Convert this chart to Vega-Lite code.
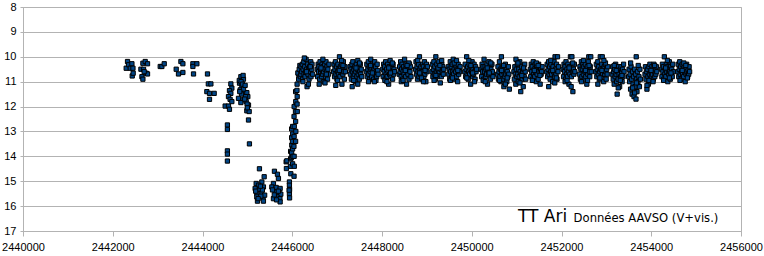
{
"$schema": "https://vega.github.io/schema/vega-lite/v6.json",
"width": 718, "height": 224,
"autosize": "none",
"padding": {"left": 23, "top": 7, "right": 23, "bottom": 25},
"background": "white",
"config": {"view": {"stroke": "#b3b3b3", "strokeWidth": 1}, "font": "Liberation Sans"},
"layer": [
{
"data": {"values": [
{"jd":2442300,"mag":10.46},{"jd":2442329,"mag":10.19},{"jd":2442352,"mag":10.32},{"jd":2442390,"mag":10.46},{"jd":2442427,"mag":10.28},{"jd":2442434,"mag":10.77},{"jd":2442450,"mag":10.46},{"jd":2442455,"mag":10.66},
{"jd":2442628,"mag":10.5},{"jd":2442650,"mag":10.8},{"jd":2442672,"mag":10.26},{"jd":2442672,"mag":10.9},{"jd":2442686,"mag":10.5},{"jd":2442723,"mag":10.19},{"jd":2442746,"mag":10.66},{"jd":2442775,"mag":10.28},{"jd":2442775,"mag":10.69},{"jd":2442700,"mag":10.6},
{"jd":2443058,"mag":10.39},{"jd":2443095,"mag":10.39},{"jd":2443147,"mag":10.28},
{"jd":2443414,"mag":10.5},{"jd":2443465,"mag":10.69},{"jd":2443519,"mag":10.19},{"jd":2443563,"mag":10.28},{"jd":2443563,"mag":10.63},
{"jd":2443786,"mag":10.28},{"jd":2443786,"mag":10.39},{"jd":2443800,"mag":10.69},{"jd":2443875,"mag":10.28},
{"jd":2444111,"mag":10.69},{"jd":2444130,"mag":11.09},{"jd":2444187,"mag":11.09},{"jd":2444097,"mag":11.4},{"jd":2444156,"mag":11.47},{"jd":2444260,"mag":11.47},{"jd":2444156,"mag":11.71},
{"jd":2444632,"mag":11.09},{"jd":2444654,"mag":11.26},{"jd":2444601,"mag":11.36},{"jd":2444632,"mag":11.47},{"jd":2444579,"mag":11.6},{"jd":2444615,"mag":11.71},{"jd":2444654,"mag":11.8},{"jd":2444505,"mag":11.98},{"jd":2444579,"mag":11.98},{"jd":2444601,"mag":12.11},{"jd":2444555,"mag":12.74},{"jd":2444555,"mag":12.92},{"jd":2444555,"mag":13.78},{"jd":2444555,"mag":13.91},{"jd":2444555,"mag":14.19},
{"jd":2444855,"mag":10.8},{"jd":2444913,"mag":10.9},{"jd":2444825,"mag":11.06},{"jd":2444877,"mag":11.2},{"jd":2444840,"mag":11.33},{"jd":2444929,"mag":11.44},{"jd":2444802,"mag":11.67},{"jd":2444899,"mag":11.73},{"jd":2444855,"mag":11.84},{"jd":2444988,"mag":11.44},{"jd":2445010,"mag":11.6},{"jd":2444973,"mag":11.8},{"jd":2445025,"mag":11.94},{"jd":2444988,"mag":12.17},{"jd":2445040,"mag":12.2},{"jd":2445025,"mag":12.54},{"jd":2445046,"mag":13.5},
{"jd":2444820,"mag":10.95},{"jd":2444860,"mag":11.0},{"jd":2444890,"mag":11.1},{"jd":2444870,"mag":11.5},{"jd":2444915,"mag":11.3},{"jd":2444950,"mag":11.15},{"jd":2444960,"mag":11.6},{"jd":2444995,"mag":11.9},{"jd":2445000,"mag":12.05},{"jd":2444830,"mag":11.4},{"jd":2444905,"mag":10.75},{"jd":2444940,"mag":11.7},
{"jd":2445269,"mag":14.5},{"jd":2445374,"mag":14.82},{"jd":2445322,"mag":15.03},{"jd":2445196,"mag":15.09},{"jd":2445247,"mag":15.16},{"jd":2445173,"mag":15.29},{"jd":2445269,"mag":15.33},{"jd":2445358,"mag":15.23},{"jd":2445210,"mag":15.49},{"jd":2445322,"mag":15.47},{"jd":2445210,"mag":15.63},{"jd":2445350,"mag":15.65},{"jd":2445385,"mag":15.56},{"jd":2445225,"mag":15.8},{"jd":2445358,"mag":15.8},{"jd":2445185,"mag":15.4},{"jd":2445300,"mag":15.6},{"jd":2445240,"mag":15.7},{"jd":2445335,"mag":15.35},{"jd":2445290,"mag":15.2},
{"jd":2445603,"mag":14.6},{"jd":2445670,"mag":14.72},{"jd":2445692,"mag":14.89},{"jd":2445581,"mag":15.09},{"jd":2445545,"mag":15.23},{"jd":2445641,"mag":15.25},{"jd":2445730,"mag":15.29},{"jd":2445620,"mag":15.43},{"jd":2445710,"mag":15.49},{"jd":2445745,"mag":15.52},{"jd":2445581,"mag":15.7},{"jd":2445660,"mag":15.63},{"jd":2445725,"mag":15.7},{"jd":2445730,"mag":15.83},{"jd":2445600,"mag":15.55},{"jd":2445690,"mag":15.4},{"jd":2445650,"mag":15.75},{"jd":2445560,"mag":15.35},
{"jd":2445864,"mag":14.22},{"jd":2445870,"mag":14.49},{"jd":2445880,"mag":14.18},{"jd":2445937,"mag":15.03},{"jd":2445937,"mag":15.16},{"jd":2445940,"mag":15.33},{"jd":2445937,"mag":15.5},{"jd":2445940,"mag":15.67},{"jd":2445930,"mag":15.36},
{"jd":2445964,"mag":13.8},{"jd":2445964,"mag":14.1},{"jd":2445960,"mag":14.4},{"jd":2445968,"mag":14.7},
{"jd":2445986,"mag":12.9},{"jd":2445986,"mag":13.25},{"jd":2445990,"mag":13.55},{"jd":2445986,"mag":13.85},{"jd":2445982,"mag":14.05},
{"jd":2446008,"mag":12.8},{"jd":2446010,"mag":13.1},{"jd":2446005,"mag":13.4},{"jd":2446008,"mag":13.7},{"jd":2446012,"mag":14.0},{"jd":2446008,"mag":14.3},
{"jd":2446042,"mag":12.0},{"jd":2446040,"mag":12.4},{"jd":2446045,"mag":12.8},{"jd":2446042,"mag":13.2},{"jd":2446038,"mag":13.6},{"jd":2446042,"mag":14.0},{"jd":2446045,"mag":14.4},{"jd":2446040,"mag":14.8},
{"jd":2446075,"mag":11.4},{"jd":2446078,"mag":11.8},{"jd":2446072,"mag":12.2},{"jd":2446075,"mag":12.6},{"jd":2446080,"mag":13.0},{"jd":2446075,"mag":13.4},
{"jd":2446108,"mag":11.1},{"jd":2446105,"mag":11.35},{"jd":2446110,"mag":11.6},{"jd":2446108,"mag":11.9},{"jd":2446112,"mag":12.2},
{"jd":2446140,"mag":10.7},{"jd":2446142,"mag":10.9},{"jd":2446125,"mag":10.65},{"jd":2446155,"mag":10.5},{"jd":2446170,"mag":10.35},{"jd":2446180,"mag":10.8},
{"jd":2446190,"mag":10.7},{"jd":2446198,"mag":10.4},{"jd":2446211,"mag":10.6},{"jd":2446224,"mag":10.3},{"jd":2446230,"mag":10.9},{"jd":2446243,"mag":10.5},{"jd":2446257,"mag":10.2},{"jd":2446263,"mag":10.7},{"jd":2446279,"mag":10.4},{"jd":2446286,"mag":10.8},{"jd":2446301,"mag":10.6},{"jd":2446308,"mag":10.1},{"jd":2446322,"mag":10.5},{"jd":2446330,"mag":11.2},{"jd":2446345,"mag":10.3},{"jd":2446351,"mag":10.7},{"jd":2446368,"mag":10.5},{"jd":2446374,"mag":10.9},{"jd":2446389,"mag":10.4},{"jd":2446396,"mag":10.6},{"jd":2446411,"mag":10.2},{"jd":2446418,"mag":10.8},{"jd":2446433,"mag":10.5},{"jd":2446440,"mag":10.3},{"jd":2446455,"mag":10.7},{"jd":2446238,"mag":11.0},{"jd":2446318,"mag":10.6},{"jd":2446402,"mag":10.4},{"jd":2446270,"mag":10.05},{"jd":2446360,"mag":11.1},
{"jd":2446556,"mag":10.5},{"jd":2446565,"mag":10.8},{"jd":2446577,"mag":10.3},{"jd":2446588,"mag":10.6},{"jd":2446596,"mag":10.4},{"jd":2446610,"mag":10.9},{"jd":2446619,"mag":10.2},{"jd":2446632,"mag":10.6},{"jd":2446642,"mag":10.5},{"jd":2446653,"mag":10.8},{"jd":2446665,"mag":10.3},{"jd":2446674,"mag":10.7},{"jd":2446687,"mag":10.4},{"jd":2446697,"mag":10.6},{"jd":2446708,"mag":11.0},{"jd":2446720,"mag":10.3},{"jd":2446729,"mag":10.5},{"jd":2446741,"mag":10.8},{"jd":2446752,"mag":10.2},{"jd":2446763,"mag":10.6},{"jd":2446774,"mag":10.4},{"jd":2446786,"mag":10.9},{"jd":2446795,"mag":10.5},{"jd":2446808,"mag":10.7},{"jd":2446818,"mag":10.3},{"jd":2446600,"mag":11.1},{"jd":2446683,"mag":10.1},{"jd":2446760,"mag":10.7},{"jd":2446640,"mag":10.45},{"jd":2446730,"mag":11.05},
{"jd":2446921,"mag":10.6},{"jd":2446931,"mag":10.3},{"jd":2446943,"mag":10.8},{"jd":2446952,"mag":10.5},{"jd":2446963,"mag":10.2},{"jd":2446975,"mag":10.7},{"jd":2446986,"mag":10.4},{"jd":2446996,"mag":10.9},{"jd":2447008,"mag":10.6},{"jd":2447019,"mag":10.3},{"jd":2447030,"mag":10.7},{"jd":2447040,"mag":10.5},{"jd":2447052,"mag":10.0},{"jd":2447063,"mag":10.8},{"jd":2447073,"mag":10.4},{"jd":2447085,"mag":10.6},{"jd":2447096,"mag":10.3},{"jd":2447107,"mag":11.1},{"jd":2447118,"mag":10.5},{"jd":2447128,"mag":10.7},{"jd":2447140,"mag":10.2},{"jd":2447151,"mag":10.6},{"jd":2447162,"mag":10.9},{"jd":2447173,"mag":10.4},{"jd":2447184,"mag":10.6},{"jd":2446970,"mag":11.15},{"jd":2447050,"mag":10.55},{"jd":2447130,"mag":10.35},{"jd":2447010,"mag":10.95},{"jd":2447100,"mag":10.15},
{"jd":2447287,"mag":10.4},{"jd":2447296,"mag":10.7},{"jd":2447309,"mag":10.5},{"jd":2447318,"mag":10.9},{"jd":2447330,"mag":10.3},{"jd":2447341,"mag":10.6},{"jd":2447350,"mag":10.2},{"jd":2447362,"mag":10.8},{"jd":2447373,"mag":10.5},{"jd":2447384,"mag":10.7},{"jd":2447395,"mag":10.4},{"jd":2447406,"mag":11.0},{"jd":2447417,"mag":10.6},{"jd":2447428,"mag":10.3},{"jd":2447439,"mag":10.8},{"jd":2447450,"mag":10.5},{"jd":2447461,"mag":10.15},{"jd":2447472,"mag":10.7},{"jd":2447483,"mag":10.4},{"jd":2447494,"mag":10.9},{"jd":2447505,"mag":10.6},{"jd":2447516,"mag":10.3},{"jd":2447527,"mag":10.7},{"jd":2447538,"mag":10.5},{"jd":2447549,"mag":10.8},{"jd":2447335,"mag":11.2},{"jd":2447420,"mag":10.45},{"jd":2447500,"mag":10.25},{"jd":2447370,"mag":10.95},{"jd":2447460,"mag":11.1},
{"jd":2447652,"mag":10.6},{"jd":2447662,"mag":10.3},{"jd":2447673,"mag":10.8},{"jd":2447684,"mag":10.5},{"jd":2447695,"mag":10.2},{"jd":2447706,"mag":10.7},{"jd":2447717,"mag":10.4},{"jd":2447728,"mag":10.9},{"jd":2447738,"mag":10.6},{"jd":2447749,"mag":10.1},{"jd":2447760,"mag":10.5},{"jd":2447771,"mag":10.8},{"jd":2447782,"mag":10.3},{"jd":2447793,"mag":10.6},{"jd":2447804,"mag":10.4},{"jd":2447815,"mag":10.9},{"jd":2447826,"mag":10.5},{"jd":2447837,"mag":10.2},{"jd":2447848,"mag":10.7},{"jd":2447859,"mag":10.4},{"jd":2447870,"mag":10.6},{"jd":2447881,"mag":10.8},{"jd":2447892,"mag":10.3},{"jd":2447903,"mag":10.55},{"jd":2447914,"mag":10.7},{"jd":2447700,"mag":11.0},{"jd":2447785,"mag":10.65},{"jd":2447865,"mag":10.95},{"jd":2447745,"mag":10.35},{"jd":2447830,"mag":11.0},
{"jd":2448017,"mag":10.5},{"jd":2448027,"mag":10.8},{"jd":2448038,"mag":10.3},{"jd":2448049,"mag":10.6},{"jd":2448060,"mag":10.4},{"jd":2448071,"mag":10.9},{"jd":2448082,"mag":10.2},{"jd":2448093,"mag":10.7},{"jd":2448104,"mag":10.5},{"jd":2448115,"mag":10.8},{"jd":2448126,"mag":10.3},{"jd":2448137,"mag":10.6},{"jd":2448148,"mag":11.1},{"jd":2448159,"mag":10.4},{"jd":2448170,"mag":10.7},{"jd":2448181,"mag":10.15},{"jd":2448192,"mag":10.5},{"jd":2448203,"mag":10.8},{"jd":2448214,"mag":10.4},{"jd":2448225,"mag":10.6},{"jd":2448236,"mag":10.9},{"jd":2448247,"mag":10.3},{"jd":2448258,"mag":10.7},{"jd":2448269,"mag":10.5},{"jd":2448280,"mag":10.6},{"jd":2448065,"mag":10.95},{"jd":2448150,"mag":10.45},{"jd":2448230,"mag":10.25},{"jd":2448110,"mag":11.0},{"jd":2448190,"mag":10.65},
{"jd":2448383,"mag":10.7},{"jd":2448393,"mag":10.4},{"jd":2448404,"mag":10.6},{"jd":2448415,"mag":10.2},{"jd":2448426,"mag":10.8},{"jd":2448437,"mag":10.5},{"jd":2448448,"mag":10.3},{"jd":2448459,"mag":10.9},{"jd":2448470,"mag":10.6},{"jd":2448481,"mag":10.4},{"jd":2448492,"mag":10.7},{"jd":2448503,"mag":10.1},{"jd":2448514,"mag":10.5},{"jd":2448525,"mag":10.8},{"jd":2448536,"mag":10.3},{"jd":2448547,"mag":11.1},{"jd":2448558,"mag":10.6},{"jd":2448569,"mag":10.4},{"jd":2448580,"mag":10.7},{"jd":2448591,"mag":10.5},{"jd":2448602,"mag":10.9},{"jd":2448613,"mag":10.3},{"jd":2448624,"mag":10.6},{"jd":2448635,"mag":10.4},{"jd":2448646,"mag":10.8},{"jd":2448430,"mag":11.0},{"jd":2448520,"mag":10.55},{"jd":2448600,"mag":10.25},{"jd":2448470,"mag":10.95},{"jd":2448560,"mag":10.35},
{"jd":2448748,"mag":10.5},{"jd":2448758,"mag":10.2},{"jd":2448769,"mag":10.7},{"jd":2448780,"mag":10.4},{"jd":2448791,"mag":10.9},{"jd":2448802,"mag":10.6},{"jd":2448813,"mag":10.3},{"jd":2448824,"mag":10.8},{"jd":2448835,"mag":10.0},{"jd":2448846,"mag":10.5},{"jd":2448857,"mag":10.7},{"jd":2448868,"mag":10.4},{"jd":2448879,"mag":10.6},{"jd":2448890,"mag":10.9},{"jd":2448901,"mag":10.3},{"jd":2448912,"mag":10.6},{"jd":2448923,"mag":10.4},{"jd":2448934,"mag":10.8},{"jd":2448945,"mag":10.2},{"jd":2448956,"mag":10.7},{"jd":2448967,"mag":10.5},{"jd":2448978,"mag":11.0},{"jd":2448989,"mag":10.3},{"jd":2449000,"mag":10.6},{"jd":2449011,"mag":10.4},{"jd":2448795,"mag":10.15},{"jd":2448880,"mag":10.85},{"jd":2448960,"mag":10.55},{"jd":2448840,"mag":10.65},{"jd":2448925,"mag":11.0},
{"jd":2449113,"mag":10.6},{"jd":2449123,"mag":10.3},{"jd":2449134,"mag":10.8},{"jd":2449145,"mag":10.5},{"jd":2449156,"mag":10.2},{"jd":2449167,"mag":10.7},{"jd":2449178,"mag":10.4},{"jd":2449189,"mag":10.9},{"jd":2449200,"mag":10.0},{"jd":2449211,"mag":10.6},{"jd":2449222,"mag":10.3},{"jd":2449233,"mag":10.8},{"jd":2449244,"mag":10.5},{"jd":2449255,"mag":10.7},{"jd":2449266,"mag":10.2},{"jd":2449277,"mag":10.6},{"jd":2449288,"mag":10.4},{"jd":2449299,"mag":11.05},{"jd":2449310,"mag":10.5},{"jd":2449321,"mag":10.8},{"jd":2449332,"mag":10.3},{"jd":2449343,"mag":10.6},{"jd":2449354,"mag":10.4},{"jd":2449365,"mag":10.7},{"jd":2449376,"mag":10.5},{"jd":2449160,"mag":10.95},{"jd":2449250,"mag":10.45},{"jd":2449330,"mag":10.15},{"jd":2449200,"mag":10.75},{"jd":2449290,"mag":10.35},
{"jd":2449478,"mag":10.4},{"jd":2449488,"mag":10.7},{"jd":2449499,"mag":10.5},{"jd":2449510,"mag":10.9},{"jd":2449521,"mag":10.2},{"jd":2449532,"mag":10.6},{"jd":2449543,"mag":10.4},{"jd":2449554,"mag":10.8},{"jd":2449565,"mag":10.3},{"jd":2449576,"mag":10.6},{"jd":2449587,"mag":10.1},{"jd":2449598,"mag":10.7},{"jd":2449609,"mag":10.5},{"jd":2449620,"mag":10.9},{"jd":2449631,"mag":10.3},{"jd":2449642,"mag":10.6},{"jd":2449653,"mag":10.4},{"jd":2449664,"mag":10.8},{"jd":2449675,"mag":10.5},{"jd":2449686,"mag":11.0},{"jd":2449697,"mag":10.3},{"jd":2449708,"mag":10.7},{"jd":2449719,"mag":10.5},{"jd":2449730,"mag":10.6},{"jd":2449741,"mag":10.4},{"jd":2449525,"mag":10.95},{"jd":2449610,"mag":10.25},{"jd":2449690,"mag":10.55},{"jd":2449570,"mag":10.85},{"jd":2449660,"mag":10.15},
{"jd":2449844,"mag":10.6},{"jd":2449854,"mag":10.3},{"jd":2449865,"mag":10.8},{"jd":2449876,"mag":10.5},{"jd":2449887,"mag":10.0},{"jd":2449898,"mag":10.7},{"jd":2449909,"mag":10.4},{"jd":2449920,"mag":10.9},{"jd":2449931,"mag":10.6},{"jd":2449942,"mag":10.3},{"jd":2449953,"mag":10.7},{"jd":2449964,"mag":10.5},{"jd":2449975,"mag":11.1},{"jd":2449986,"mag":10.4},{"jd":2449997,"mag":10.6},{"jd":2450008,"mag":10.2},{"jd":2450019,"mag":10.8},{"jd":2450030,"mag":10.5},{"jd":2450041,"mag":10.7},{"jd":2450052,"mag":10.3},{"jd":2450063,"mag":10.6},{"jd":2450074,"mag":10.9},{"jd":2450085,"mag":10.4},{"jd":2450096,"mag":10.6},{"jd":2450107,"mag":10.5},{"jd":2449890,"mag":10.85},{"jd":2449980,"mag":10.35},{"jd":2450060,"mag":11.0},{"jd":2449935,"mag":10.15},{"jd":2450020,"mag":10.65},
{"jd":2450209,"mag":10.5},{"jd":2450219,"mag":10.8},{"jd":2450230,"mag":10.3},{"jd":2450241,"mag":10.6},{"jd":2450252,"mag":10.4},{"jd":2450263,"mag":10.9},{"jd":2450274,"mag":10.1},{"jd":2450285,"mag":10.6},{"jd":2450296,"mag":10.4},{"jd":2450307,"mag":10.8},{"jd":2450318,"mag":10.5},{"jd":2450329,"mag":10.7},{"jd":2450340,"mag":10.3},{"jd":2450351,"mag":11.1},{"jd":2450362,"mag":10.5},{"jd":2450373,"mag":10.7},{"jd":2450384,"mag":10.2},{"jd":2450395,"mag":10.6},{"jd":2450406,"mag":10.4},{"jd":2450417,"mag":10.9},{"jd":2450428,"mag":10.5},{"jd":2450439,"mag":10.7},{"jd":2450450,"mag":10.3},{"jd":2450461,"mag":10.6},{"jd":2450472,"mag":10.8},{"jd":2450255,"mag":10.95},{"jd":2450345,"mag":10.45},{"jd":2450425,"mag":10.25},{"jd":2450300,"mag":11.0},{"jd":2450390,"mag":10.65},
{"jd":2450574,"mag":10.7},{"jd":2450584,"mag":10.4},{"jd":2450595,"mag":10.9},{"jd":2450606,"mag":10.6},{"jd":2450617,"mag":10.2},{"jd":2450628,"mag":10.8},{"jd":2450639,"mag":10.5},{"jd":2450650,"mag":11.0},{"jd":2450661,"mag":10.0},{"jd":2450672,"mag":10.7},{"jd":2450683,"mag":10.4},{"jd":2450694,"mag":10.9},{"jd":2450705,"mag":10.6},{"jd":2450716,"mag":11.2},{"jd":2450727,"mag":10.5},{"jd":2450738,"mag":10.8},{"jd":2450749,"mag":10.3},{"jd":2450760,"mag":10.7},{"jd":2450771,"mag":10.5},{"jd":2450782,"mag":11.0},{"jd":2450793,"mag":10.6},{"jd":2450804,"mag":10.8},{"jd":2450815,"mag":10.4},{"jd":2450826,"mag":10.7},{"jd":2450837,"mag":11.3},{"jd":2450620,"mag":10.95},{"jd":2450710,"mag":10.35},{"jd":2450790,"mag":10.85},{"jd":2450665,"mag":10.55},{"jd":2450750,"mag":11.1},
{"jd":2450939,"mag":10.6},{"jd":2450949,"mag":10.9},{"jd":2450960,"mag":10.4},{"jd":2450971,"mag":10.7},{"jd":2450982,"mag":11.1},{"jd":2450993,"mag":10.5},{"jd":2451004,"mag":10.8},{"jd":2451015,"mag":10.3},{"jd":2451026,"mag":10.7},{"jd":2451037,"mag":11.0},{"jd":2451048,"mag":10.5},{"jd":2451059,"mag":10.8},{"jd":2451070,"mag":10.2},{"jd":2451081,"mag":10.6},{"jd":2451092,"mag":11.4},{"jd":2451103,"mag":10.7},{"jd":2451114,"mag":10.4},{"jd":2451125,"mag":10.9},{"jd":2451136,"mag":10.6},{"jd":2451147,"mag":11.2},{"jd":2451158,"mag":10.5},{"jd":2451169,"mag":10.8},{"jd":2451180,"mag":10.3},{"jd":2451191,"mag":10.6},{"jd":2451202,"mag":10.9},{"jd":2450985,"mag":10.1},{"jd":2451075,"mag":11.05},{"jd":2451155,"mag":10.45},{"jd":2451030,"mag":10.25},{"jd":2451115,"mag":10.75},
{"jd":2451305,"mag":10.5},{"jd":2451315,"mag":10.8},{"jd":2451326,"mag":10.3},{"jd":2451337,"mag":10.6},{"jd":2451348,"mag":10.4},{"jd":2451359,"mag":10.9},{"jd":2451370,"mag":10.2},{"jd":2451381,"mag":10.7},{"jd":2451392,"mag":10.5},{"jd":2451403,"mag":10.8},{"jd":2451414,"mag":10.3},{"jd":2451425,"mag":10.6},{"jd":2451436,"mag":11.0},{"jd":2451447,"mag":10.4},{"jd":2451458,"mag":10.7},{"jd":2451469,"mag":10.5},{"jd":2451480,"mag":10.9},{"jd":2451491,"mag":10.3},{"jd":2451502,"mag":10.6},{"jd":2451513,"mag":10.4},{"jd":2451524,"mag":11.1},{"jd":2451535,"mag":10.5},{"jd":2451546,"mag":10.7},{"jd":2451557,"mag":10.6},{"jd":2451568,"mag":10.4},{"jd":2451350,"mag":10.95},{"jd":2451440,"mag":10.25},{"jd":2451520,"mag":10.75},{"jd":2451395,"mag":10.55},{"jd":2451480,"mag":10.35},
{"jd":2451670,"mag":10.6},{"jd":2451680,"mag":10.3},{"jd":2451691,"mag":10.8},{"jd":2451702,"mag":10.5},{"jd":2451713,"mag":10.2},{"jd":2451724,"mag":10.7},{"jd":2451735,"mag":10.4},{"jd":2451746,"mag":10.9},{"jd":2451757,"mag":10.6},{"jd":2451768,"mag":10.3},{"jd":2451779,"mag":10.7},{"jd":2451790,"mag":10.5},{"jd":2451801,"mag":11.0},{"jd":2451812,"mag":10.4},{"jd":2451823,"mag":10.6},{"jd":2451834,"mag":10.2},{"jd":2451845,"mag":10.8},{"jd":2451856,"mag":10.0},{"jd":2451867,"mag":10.5},{"jd":2451878,"mag":10.7},{"jd":2451889,"mag":10.3},{"jd":2451900,"mag":10.9},{"jd":2451911,"mag":10.0},{"jd":2451922,"mag":10.6},{"jd":2451933,"mag":10.4},{"jd":2451715,"mag":11.2},{"jd":2451805,"mag":10.55},{"jd":2451885,"mag":10.85},{"jd":2451760,"mag":10.15},{"jd":2451850,"mag":11.05},
{"jd":2452035,"mag":10.5},{"jd":2452045,"mag":10.8},{"jd":2452056,"mag":10.3},{"jd":2452067,"mag":10.6},{"jd":2452078,"mag":10.4},{"jd":2452089,"mag":10.9},{"jd":2452100,"mag":10.2},{"jd":2452111,"mag":10.7},{"jd":2452122,"mag":10.5},{"jd":2452133,"mag":10.8},{"jd":2452144,"mag":10.3},{"jd":2452155,"mag":10.6},{"jd":2452166,"mag":11.1},{"jd":2452177,"mag":10.4},{"jd":2452188,"mag":10.7},{"jd":2452199,"mag":10.0},{"jd":2452210,"mag":10.5},{"jd":2452221,"mag":10.8},{"jd":2452232,"mag":10.0},{"jd":2452243,"mag":10.6},{"jd":2452254,"mag":11.4},{"jd":2452265,"mag":10.5},{"jd":2452276,"mag":10.7},{"jd":2452287,"mag":10.3},{"jd":2452298,"mag":10.6},{"jd":2452080,"mag":11.0},{"jd":2452170,"mag":10.45},{"jd":2452250,"mag":10.25},{"jd":2452125,"mag":10.95},{"jd":2452215,"mag":11.2},
{"jd":2452400,"mag":10.7},{"jd":2452410,"mag":10.4},{"jd":2452421,"mag":10.9},{"jd":2452432,"mag":10.5},{"jd":2452443,"mag":10.2},{"jd":2452454,"mag":10.8},{"jd":2452465,"mag":10.5},{"jd":2452476,"mag":10.3},{"jd":2452487,"mag":10.7},{"jd":2452498,"mag":10.4},{"jd":2452509,"mag":10.9},{"jd":2452520,"mag":10.6},{"jd":2452531,"mag":10.3},{"jd":2452542,"mag":10.8},{"jd":2452553,"mag":10.5},{"jd":2452564,"mag":11.1},{"jd":2452575,"mag":10.4},{"jd":2452586,"mag":10.7},{"jd":2452597,"mag":10.2},{"jd":2452608,"mag":10.0},{"jd":2452619,"mag":10.6},{"jd":2452630,"mag":10.8},{"jd":2452641,"mag":10.4},{"jd":2452652,"mag":10.0},{"jd":2452663,"mag":10.6},{"jd":2452445,"mag":11.0},{"jd":2452535,"mag":10.55},{"jd":2452615,"mag":10.35},{"jd":2452490,"mag":10.15},{"jd":2452580,"mag":10.95},
{"jd":2452766,"mag":10.6},{"jd":2452776,"mag":10.3},{"jd":2452787,"mag":10.8},{"jd":2452798,"mag":10.5},{"jd":2452809,"mag":10.2},{"jd":2452820,"mag":10.7},{"jd":2452831,"mag":10.4},{"jd":2452842,"mag":10.9},{"jd":2452853,"mag":10.6},{"jd":2452864,"mag":10.0},{"jd":2452875,"mag":10.5},{"jd":2452886,"mag":10.8},{"jd":2452897,"mag":10.3},{"jd":2452908,"mag":10.0},{"jd":2452919,"mag":10.7},{"jd":2452930,"mag":10.5},{"jd":2452941,"mag":11.0},{"jd":2452952,"mag":10.4},{"jd":2452963,"mag":10.7},{"jd":2452974,"mag":10.3},{"jd":2452985,"mag":10.6},{"jd":2452996,"mag":10.9},{"jd":2453007,"mag":10.5},{"jd":2453018,"mag":10.7},{"jd":2453029,"mag":10.4},{"jd":2452810,"mag":11.1},{"jd":2452900,"mag":10.55},{"jd":2452980,"mag":10.25},{"jd":2452855,"mag":10.85},{"jd":2452945,"mag":10.15},
{"jd":2453131,"mag":10.7},{"jd":2453141,"mag":10.4},{"jd":2453152,"mag":10.9},{"jd":2453163,"mag":10.6},{"jd":2453174,"mag":11.1},{"jd":2453185,"mag":10.5},{"jd":2453196,"mag":10.8},{"jd":2453207,"mag":10.3},{"jd":2453218,"mag":10.7},{"jd":2453229,"mag":11.0},{"jd":2453240,"mag":11.5},{"jd":2453251,"mag":10.6},{"jd":2453262,"mag":10.9},{"jd":2453273,"mag":10.4},{"jd":2453284,"mag":10.7},{"jd":2453295,"mag":11.2},{"jd":2453306,"mag":10.5},{"jd":2453317,"mag":10.8},{"jd":2453328,"mag":10.4},{"jd":2453339,"mag":10.6},{"jd":2453350,"mag":11.0},{"jd":2453361,"mag":10.5},{"jd":2453372,"mag":10.8},{"jd":2453383,"mag":10.3},{"jd":2453394,"mag":10.6},{"jd":2453175,"mag":10.35},{"jd":2453265,"mag":11.25},{"jd":2453345,"mag":10.75},{"jd":2453220,"mag":10.55},{"jd":2453310,"mag":10.95},
{"jd":2453496,"mag":10.8},{"jd":2453506,"mag":10.5},{"jd":2453517,"mag":11.0},{"jd":2453528,"mag":10.7},{"jd":2453539,"mag":11.3},{"jd":2453550,"mag":10.4},{"jd":2453561,"mag":10.9},{"jd":2453572,"mag":11.5},{"jd":2453583,"mag":10.6},{"jd":2453594,"mag":11.1},{"jd":2453605,"mag":10.8},{"jd":2453616,"mag":11.6},{"jd":2453627,"mag":10.5},{"jd":2453638,"mag":11.2},{"jd":2453649,"mag":10.7},{"jd":2453660,"mag":11.7},{"jd":2453671,"mag":10.9},{"jd":2453682,"mag":11.4},{"jd":2453693,"mag":10.6},{"jd":2453704,"mag":11.0},{"jd":2453665,"mag":10.0},{"jd":2453726,"mag":10.8},{"jd":2453737,"mag":11.2},{"jd":2453748,"mag":10.5},{"jd":2453759,"mag":10.9},{"jd":2453540,"mag":10.25},{"jd":2453630,"mag":11.45},{"jd":2453710,"mag":10.35},{"jd":2453585,"mag":11.25},{"jd":2453670,"mag":11.05},
{"jd":2453861,"mag":10.7},{"jd":2453871,"mag":10.4},{"jd":2453882,"mag":10.9},{"jd":2453893,"mag":10.6},{"jd":2453904,"mag":11.3},{"jd":2453915,"mag":10.5},{"jd":2453926,"mag":10.8},{"jd":2453937,"mag":11.1},{"jd":2453948,"mag":10.4},{"jd":2453959,"mag":10.7},{"jd":2453970,"mag":10.3},{"jd":2453981,"mag":10.9},{"jd":2453992,"mag":10.6},{"jd":2454003,"mag":10.8},{"jd":2454014,"mag":10.4},{"jd":2454025,"mag":10.7},{"jd":2454036,"mag":10.5},{"jd":2454047,"mag":10.9},{"jd":2454058,"mag":10.3},{"jd":2454069,"mag":10.6},{"jd":2454080,"mag":10.8},{"jd":2454091,"mag":10.5},{"jd":2454102,"mag":10.7},{"jd":2454113,"mag":10.4},{"jd":2454124,"mag":10.6},{"jd":2453905,"mag":11.15},{"jd":2453995,"mag":10.55},{"jd":2454075,"mag":10.35},{"jd":2453950,"mag":10.95},{"jd":2454040,"mag":11.0},
{"jd":2454227,"mag":10.5},{"jd":2454237,"mag":10.8},{"jd":2454248,"mag":10.3},{"jd":2454259,"mag":10.6},{"jd":2454270,"mag":10.4},{"jd":2454281,"mag":10.9},{"jd":2454292,"mag":10.0},{"jd":2454303,"mag":10.7},{"jd":2454314,"mag":10.5},{"jd":2454325,"mag":10.8},{"jd":2454336,"mag":10.3},{"jd":2454347,"mag":10.6},{"jd":2454358,"mag":10.4},{"jd":2454369,"mag":11.0},{"jd":2454380,"mag":10.5},{"jd":2454391,"mag":10.7},{"jd":2454402,"mag":10.2},{"jd":2454413,"mag":10.6},{"jd":2454424,"mag":10.9},{"jd":2454435,"mag":10.4},{"jd":2454446,"mag":10.7},{"jd":2454457,"mag":10.5},{"jd":2454468,"mag":10.8},{"jd":2454479,"mag":10.3},{"jd":2454490,"mag":10.6},{"jd":2454275,"mag":10.95},{"jd":2454360,"mag":10.15},{"jd":2454440,"mag":10.65},{"jd":2454320,"mag":10.45},{"jd":2454405,"mag":10.85},
{"jd":2454592,"mag":10.6},{"jd":2454602,"mag":10.3},{"jd":2454613,"mag":10.8},{"jd":2454624,"mag":10.5},{"jd":2454635,"mag":10.2},{"jd":2454646,"mag":10.7},{"jd":2454657,"mag":10.4},{"jd":2454668,"mag":10.9},{"jd":2454679,"mag":10.6},{"jd":2454690,"mag":10.3},{"jd":2454701,"mag":10.7},{"jd":2454712,"mag":10.5},{"jd":2454723,"mag":10.8},{"jd":2454734,"mag":10.4},{"jd":2454745,"mag":10.6},{"jd":2454756,"mag":11.0},{"jd":2454767,"mag":10.5},{"jd":2454778,"mag":10.7},{"jd":2454789,"mag":10.3},{"jd":2454800,"mag":10.6},{"jd":2454811,"mag":10.8},{"jd":2454822,"mag":10.5},{"jd":2454833,"mag":10.7},{"jd":2454844,"mag":10.4},{"jd":2454855,"mag":10.6},{"jd":2454640,"mag":10.95},{"jd":2454725,"mag":10.25},{"jd":2454805,"mag":10.85},{"jd":2454690,"mag":10.55},{"jd":2454770,"mag":10.35}
]},
"mark": {"type": "point", "shape": "square", "filled": true, "fill": "#004586", "stroke": "#000000", "strokeWidth": 1, "size": 18, "opacity": 1},
"encoding": {
"x": {"field": "jd", "type": "quantitative",
"scale": {"domain": [2440000, 2456000], "nice": false, "zero": false},
"axis": {"values": [2440000, 2442000, 2444000, 2446000, 2448000, 2450000, 2452000, 2454000, 2456000], "format": "d", "title": null, "grid": false, "tickSize": 5, "tickColor": "#b3b3b3", "domainColor": "#b3b3b3", "labelFont": "Liberation Sans", "labelFontSize": 11, "labelColor": "#000000", "labelPadding": 5, "labelFlush": false, "labelOverlap": false}},
"y": {"field": "mag", "type": "quantitative",
"scale": {"domain": [8, 17], "reverse": true, "nice": false, "zero": false},
"axis": {"values": [8, 9, 10, 11, 12, 13, 14, 15, 16, 17], "format": "d", "title": null, "grid": true, "gridColor": "#b3b3b3", "tickSize": 3, "tickColor": "#b3b3b3", "domainColor": "#b3b3b3", "labelFont": "Liberation Sans", "labelFontSize": 11, "labelColor": "#000000", "labelPadding": 4, "labelOverlap": false}}
}
},
{
"data": {"values": [{}]},
"mark": {"type": "text", "text": "TT Ari", "align": "left", "baseline": "alphabetic", "font": "DejaVu Sans", "fontSize": 17, "color": "#000000"},
"encoding": {
"x": {"datum": 2451030, "type": "quantitative", "axis": {"values": [2440000, 2442000, 2444000, 2446000, 2448000, 2450000, 2452000, 2454000, 2456000], "format": "d", "title": null, "grid": false, "tickSize": 5, "tickColor": "#b3b3b3", "domainColor": "#b3b3b3", "labelFont": "Liberation Sans", "labelFontSize": 11, "labelColor": "#000000", "labelPadding": 5, "labelFlush": false, "labelOverlap": false}},
"y": {"datum": 16.65, "type": "quantitative", "axis": {"values": [8, 9, 10, 11, 12, 13, 14, 15, 16, 17], "format": "d", "title": null, "grid": true, "gridColor": "#b3b3b3", "tickSize": 3, "tickColor": "#b3b3b3", "domainColor": "#b3b3b3", "labelFont": "Liberation Sans", "labelFontSize": 11, "labelColor": "#000000", "labelPadding": 4, "labelOverlap": false}}
}
},
{
"data": {"values": [{}]},
"mark": {"type": "text", "text": "Données AAVSO (V+vis.)", "align": "left", "baseline": "alphabetic", "font": "DejaVu Sans", "fontSize": 11.6, "color": "#000000"},
"encoding": {
"x": {"datum": 2452270, "type": "quantitative", "axis": {"values": [2440000, 2442000, 2444000, 2446000, 2448000, 2450000, 2452000, 2454000, 2456000], "format": "d", "title": null, "grid": false, "tickSize": 5, "tickColor": "#b3b3b3", "domainColor": "#b3b3b3", "labelFont": "Liberation Sans", "labelFontSize": 11, "labelColor": "#000000", "labelPadding": 5, "labelFlush": false, "labelOverlap": false}},
"y": {"datum": 16.65, "type": "quantitative", "axis": {"values": [8, 9, 10, 11, 12, 13, 14, 15, 16, 17], "format": "d", "title": null, "grid": true, "gridColor": "#b3b3b3", "tickSize": 3, "tickColor": "#b3b3b3", "domainColor": "#b3b3b3", "labelFont": "Liberation Sans", "labelFontSize": 11, "labelColor": "#000000", "labelPadding": 4, "labelOverlap": false}}
}
}
]
}
